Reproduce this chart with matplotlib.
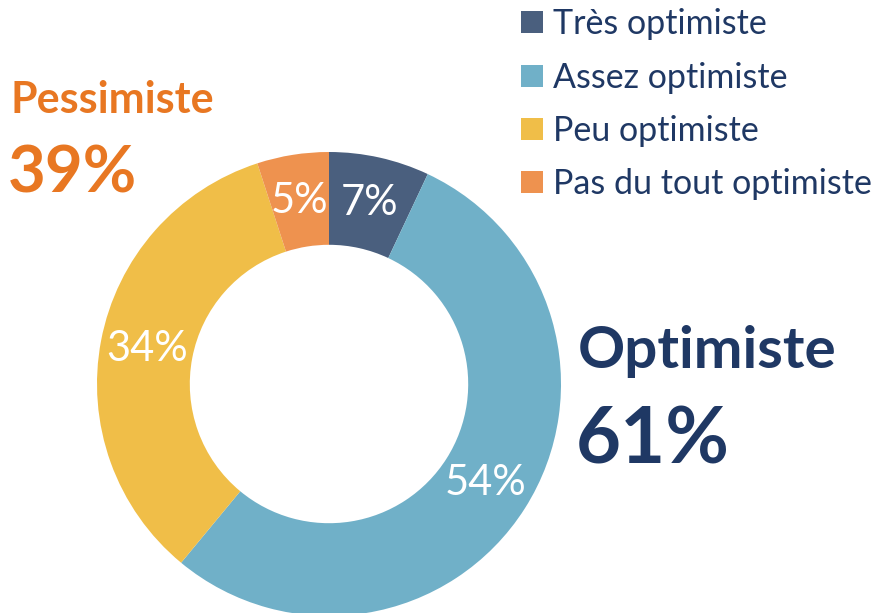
import matplotlib.pyplot as plt
from matplotlib.patches import Patch

# Data
categories = ["Très optimiste", "Assez optimiste", "Peu optimiste", "Pas du tout optimiste"]
values = [7, 54, 34, 5]
colors = ["#4A5F7E", "#70B0C8", "#F0BE48", "#EE924F"]
navy = "#1F3864"
orange = "#E87722"

plt.rcParams['font.family'] = ['Lato', 'DejaVu Sans']

W, H = 881, 613
fig = plt.figure(figsize=(W / 100, H / 100), dpi=100)

# donut: centre (329, 384) px, outer radius 232 px
cx, cy, r = 329, 384, 232
ax = fig.add_axes([(cx - r) / W, (H - cy - r) / H, 2 * r / W, 2 * r / H])
wedges, texts, autotexts = ax.pie(values, colors=colors, startangle=90, counterclock=False,
                                  radius=1, wedgeprops=dict(width=0.4, linewidth=0),
                                  autopct='%d%%', pctdistance=0.8,
                                  textprops=dict(color='white', fontsize=30))
ax.set_xlim(-1, 1)
ax.set_ylim(-1, 1)
ax.axis('off')

# legend
handles = [Patch(facecolor=c, edgecolor='none') for c in colors]
leg = fig.legend(handles, categories, loc='upper left', bbox_to_anchor=(501 / W, 1.0 + 12 / H),
                 frameon=False, fontsize=24.5, handlelength=0.62, handleheight=0.62,
                 handletextpad=0.32, labelspacing=0.62, borderaxespad=0.2)
for t in leg.get_texts():
    t.set_color(navy)

# group annotations
fig.text(10 / W, 1 - 100 / H, "Pessimiste", color=orange, fontsize=31, fontweight='bold', va='center')
fig.text(8 / W, 1 - 174 / H, "39%", color=orange, fontsize=47, fontweight='bold', va='center')
fig.text(578 / W, 1 - 352 / H, "Optimiste", color=navy, fontsize=42, fontweight='bold', va='center')
fig.text(576 / W, 1 - 442 / H, "61%", color=navy, fontsize=56, fontweight='bold', va='center')

fig.savefig("out.png", dpi=100)
